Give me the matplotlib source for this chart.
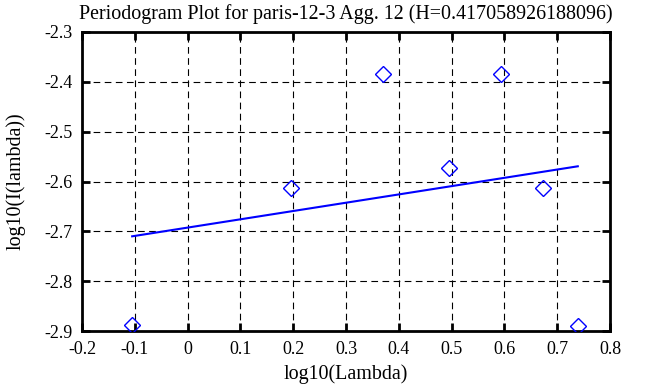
import matplotlib
matplotlib.use("Agg")
import matplotlib.pyplot as plt
import numpy as np

x_points = [-0.105, 0.196, 0.371, 0.496, 0.593, 0.6725, 0.739]
y_points = [-2.888, -2.614, -2.385, -2.572, -2.385, -2.614, -2.889]
fit_x = [-0.105, 0.739]
fit_y = [-2.710, -2.5695]
xticks = [-0.2, -0.1, 0, 0.1, 0.2, 0.3, 0.4, 0.5, 0.6, 0.7, 0.8]
xticklabels = ["-0.2", "-0.1", "0", "0.1", "0.2", "0.3", "0.4", "0.5", "0.6", "0.7", "0.8"]
yticks = [-2.9, -2.8, -2.7, -2.6, -2.5, -2.4, -2.3]
yticklabels = ["-2.9", "-2.8", "-2.7", "-2.6", "-2.5", "-2.4", "-2.3"]

plt.rcParams['font.family'] = ['Liberation Serif', 'DejaVu Serif']
plt.rcParams['font.size'] = 13

fig = plt.figure(figsize=(6.58, 3.87), dpi=100)
ax = fig.add_axes([82/658, 1-331/387, (610-82)/658, (331-32)/387])

ax.plot(x_points, y_points, linestyle='none', marker='D', markersize=8,
        markerfacecolor='none', markeredgecolor='#0000ff', markeredgewidth=1.0, zorder=3)
ax.plot(fit_x, fit_y, color='#0000ff', linewidth=1.5, zorder=3)

ax.set_xlim(-0.2, 0.8)
ax.set_ylim(-2.9, -2.3)
ax.set_xticks(xticks)
ax.set_xticklabels(xticklabels)
ax.set_yticks(yticks)
ax.set_yticklabels(yticklabels)
ax.grid(True, color='black', linestyle=(0, (6, 4)), linewidth=0.8)
ax.tick_params(direction='in', top=True, right=True, length=6, width=2)
ax.tick_params(axis='x', pad=7)
ax.tick_params(axis='y', pad=7)
for s in ax.spines.values():
    s.set_linewidth(2)
ax.set_xlabel('log10(Lambda)', fontsize=14.4, labelpad=5)
ax.set_ylabel('log10(I(lambda))', fontsize=14.4, labelpad=13)
ax.set_title('Periodogram Plot for paris-12-3 Agg. 12 (H=0.417058926188096)', fontsize=14.4, pad=9)

fig.savefig('out.png', dpi=100)
